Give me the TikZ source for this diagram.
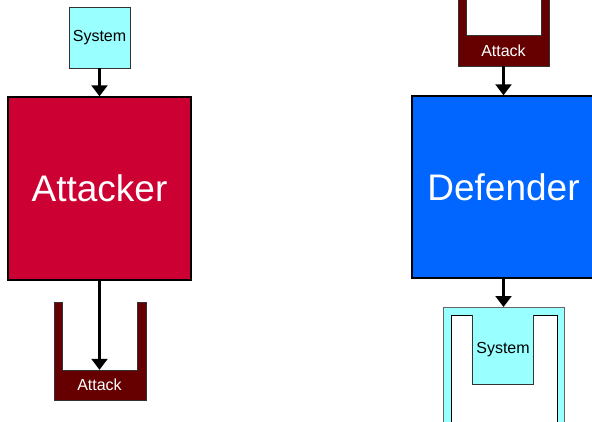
\documentclass[tikz,border=0pt]{standalone}
\usepackage{fontspec}
\setmainfont{Liberation Sans}
\usetikzlibrary{arrows.meta}
\definecolor{syscyan}{HTML}{99FFFF}
\definecolor{attred}{HTML}{CC0033}
\definecolor{defblue}{HTML}{0066FF}
\definecolor{cupred}{HTML}{660000}

\begin{document}
\begin{tikzpicture}[
    x=1pt,y=-1pt,
    sys/.style={draw=black!80,fill=syscyan,line width=0.8pt,inner sep=0pt,font=\fontsize{16}{19}\selectfont},
    big/.style={draw=black,line width=1.4pt,inner sep=0pt,minimum width=183pt,minimum height=183pt,text=white,font=\fontsize{37}{44}\selectfont},
    cup/.style={draw=black!80,fill=cupred,line width=0.8pt},
    floor/.style={inner sep=0pt,minimum width=75pt,minimum height=30pt,text=white,font=\fontsize{16}{19}\selectfont},
    arr/.style={-{Triangle[width=16pt,length=11pt]},line width=2.2pt,draw=black}
]
    \useasboundingbox (0,0) rectangle (592,421);

    % attacker side
    \node[sys,minimum size=61pt] (sysA) at (99.5,37.5) {System};
    \node[big,fill=attred] (att) at (99.5,188.5) {Attacker};
    \draw[cup] (54,302) -- (62,302) -- (62,370) -- (137,370) -- (137,302)
        -- (146,302) -- (146,400) -- (54,400) -- cycle;
    \node[floor] (atkA) at (99.5,385) {Attack};
    \draw[arr] (sysA) -- (att);
    \draw[arr] (att) -- (atkA.north);

    % defender side
    \draw[cup] (458,-10) -- (466,-10) -- (466,35) -- (541,35) -- (541,-10)
        -- (549,-10) -- (549,66) -- (458,66) -- cycle;
    \node[floor,minimum height=31pt] (atkB) at (503.5,50.5) {Attack};
    \node[big,fill=defblue,minimum height=182pt] (def) at (503.5,187) {Defender};
    \draw[arr] (atkB) -- (def);

    % system slot under the defender
    \draw[draw=black!60,fill=syscyan,line width=0.8pt] (443,307) rectangle (564,440);
    \draw[draw=black,fill=white,line width=0.8pt] (451,315) rectangle (557,440);
    \node[sys,draw=none,minimum width=60pt,minimum height=69pt] (sysB) at (503,349.5) {System};
    \draw[draw=black!80,line width=0.8pt] (sysB.north west) -- (sysB.south west)
        -- (sysB.south east) -- (sysB.north east);
    \coordinate (slot) at (503.5,307);
    \draw[arr] (def) -- (slot);
\end{tikzpicture}
\end{document}
